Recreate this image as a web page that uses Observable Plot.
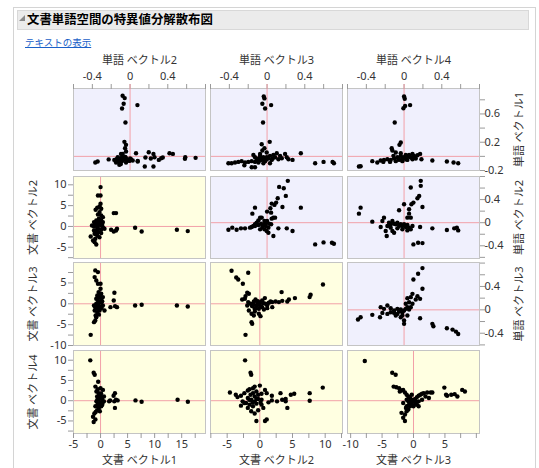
<!DOCTYPE html>
<html><head><meta charset="utf-8">
<script src="https://cdn.jsdelivr.net/npm/d3@7"></script>
<script src="https://cdn.jsdelivr.net/npm/@observablehq/plot@0.6"></script>
<style>
body{margin:0;background:#fff;font-family:"Noto Sans","Noto Sans CJK JP",sans-serif;}
#root{position:relative;width:539px;height:468px;overflow:hidden;background:#fff;}
.abs{position:absolute;}
</style></head><body><div id="root">
<div class="abs" style="left:13px;top:7px;width:523px;height:480px;border:1px solid #d4d4d4;box-sizing:border-box;"></div>
<div class="abs" style="left:17px;top:10px;width:512px;height:20px;background:#ebebeb;border:1px solid #d8d8d8;box-sizing:border-box;"></div>
<div class="abs" style="left:19px;top:15px;width:6px;height:6px;background:#8a8a8a;clip-path:polygon(100% 0,100% 100%,0 100%);"></div>
<div class="abs" id="title" style="left:27px;top:10px;height:18px;line-height:18px;font-size:12.4px;font-weight:bold;color:#000;font-family:'Noto Sans CJK JP',sans-serif;white-space:nowrap;">文書単語空間の特異値分解散布図</div>
<div class="abs" style="left:25px;top:35px;line-height:14px;font-size:9.5px;color:#1a5fc8;text-decoration:underline;font-family:'Noto Sans CJK JP',sans-serif;white-space:nowrap;">テキストの表示</div>
</div>
<script>
// ---- data: word vectors (単語 ベクトル) per panel as [x, y]
const wordV2V1 = [[-0.079,0.857],[-0.057,0.824],[-0.068,0.744],[-0.085,0.677],[0.078,0.725],[-0.049,0.479],
 [-0.06,0.205],[-0.043,0.163],[-0.053,0.116],[-0.043,0.068],[-0.078,0.035],
 [-0.167,-0.05],[-0.142,-0.04],[-0.121,-0.073],[-0.103,-0.097],[-0.096,-0.031],[-0.078,-0.059],[-0.06,-0.04],[-0.043,-0.026],[-0.025,-0.05],[-0.007,-0.064],[0.01,-0.04],[0.028,-0.059],[-0.149,-0.087],[-0.114,-0.12],[-0.085,-0.012],[-0.043,-0.087],[-0.131,-0.012],[0.081,-0.064],[0.063,0.045],[-0.096,0.035],
 [-0.09,-0.07],[-0.07,-0.02],[-0.11,-0.05],[-0.03,-0.06],[-0.12,-0.03],[-0.05,-0.01],[0.0,-0.03],[-0.1,-0.11],
 [-0.369,-0.087],[-0.344,-0.073],[-0.227,-0.043],
 [0.163,-0.017],[0.198,0.058],[0.248,0.035],[0.22,-0.031],[0.259,-0.012],[0.305,-0.05],[0.33,-0.026],[0.347,-0.017],[0.418,0.045],[0.454,0.035],[0.585,-0.012],[0.582,-0.035],[0.695,-0.021],[0.156,-0.144],[0.248,-0.144],[0.081,-0.073]];
const wordV3V1 = [[-0.035,0.847],[-0.028,0.82],[-0.05,0.744],[0.043,0.725],[-0.021,0.677],[-0.043,0.479],
 [-0.057,0.172],[0.028,0.205],[-0.028,0.116],[-0.05,0.083],[-0.004,0.054],
 [-0.145,0.021],[-0.128,-0.012],[-0.11,-0.05],[-0.092,-0.031],[-0.074,0.007],[-0.057,-0.05],[-0.039,-0.012],[-0.021,-0.068],[-0.004,-0.04],[0.014,-0.026],[0.031,0.007],[0.049,-0.05],[0.067,0.021],[0.085,-0.012],[0.103,0.045],[0.12,-0.04],[0.138,0.007],[0.156,-0.026],[0.191,0.035],[0.209,-0.012],[0.227,-0.04],[0.27,-0.05],[0.358,0.045],[-0.163,-0.068],[-0.128,-0.078],[-0.092,-0.087],[-0.039,-0.097],[0.031,-0.097],[-0.004,-0.012],[-0.074,0.035],
 [-0.06,-0.03],[-0.02,-0.05],[0.0,-0.02],[-0.08,-0.06],[0.06,-0.03],
 [-0.41,-0.097],[-0.376,-0.097],[-0.34,-0.087],[-0.305,-0.078],[-0.27,-0.068],[-0.234,-0.087],[-0.241,-0.125],[-0.163,-0.154],[-0.128,-0.154],[-0.199,-0.078],
 [0.51,-0.097],[0.599,-0.078],[0.695,-0.078],[0.709,-0.097]];
const wordV4V1 = [[0,0.847],[0.007,0.814],[-0.007,0.68],[0.011,0.714],[0.064,0.725],[-0.099,0.479],
 [-0.035,0.196],[-0.049,0.163],[-0.131,0.116],[-0.124,0.083],[-0.088,0.054],
 [-0.284,-0.087],[-0.248,-0.059],[-0.213,-0.05],[-0.177,-0.04],[-0.142,-0.05],[-0.106,-0.031],[-0.071,-0.012],[-0.053,-0.05],[-0.035,0.007],[-0.018,-0.031],[0,-0.012],[0.018,0.021],[0.035,-0.003],[0.053,0.021],[0.071,-0.012],[0.089,-0.04],[0.106,0.007],[0.124,-0.031],[0.142,0.016],[0.17,0.035],[0.184,-0.04],[-0.149,-0.078],[-0.088,-0.068],[-0.018,-0.068],[0.035,-0.05],[-0.035,0.045],[0.089,0.035],[-0.22,-0.078],[-0.337,-0.068],[-0.113,0.007],
 [-0.01,-0.02],[0.02,-0.04],[0.05,0.0],[-0.06,-0.03],[0.1,-0.02],
 [0.3,-0.059],[0.454,-0.073],[0.525,-0.087],[0.574,-0.097],
 [-0.479,-0.144],[-0.461,-0.139]];
const wordV3V2 = [[0.22,0.725],[0.128,0.62],[0.177,0.597],[0.199,0.464],[0.113,0.424],[0.096,0.348],[0.049,0.331],[0.078,0.308],[0.035,0.25],[-0.128,0.261],[-0.156,0.157],[0,0.192],[0.163,0.273],[0.358,0.261],[0.043,0.174],[0.067,0.087],[0.049,0.07],[0,0.03],[-0.028,0.03],[-0.057,0.087],[-0.074,0.087],[-0.092,0.041],[-0.11,0.002],[-0.128,-0.028],[-0.145,-0.057],[-0.163,-0.075],[-0.092,-0.04],[-0.064,-0.017],[-0.039,-0.04],[-0.014,-0.057],[0.014,-0.086],[-0.028,-0.115],[-0.004,-0.144],[0.014,-0.173],[0.067,-0.231],[0.12,-0.098],[0.209,-0.098],[0.27,-0.144],[-0.41,-0.121],[-0.369,-0.086],[-0.323,-0.121],[-0.277,-0.098],[-0.234,-0.098],[-0.181,-0.086],[-0.128,-0.057],[-0.074,-0.115],[-0.05,-0.075],[0.51,-0.376],[0.599,-0.341],[0.688,-0.347],[0.709,-0.364],[0.021,-0.017],[0.043,-0.028],[-0.021,-0.017],[0.085,0.087]];
const wordV4V2 = [[0.177,0.725],[0.177,0.638],[0.071,0.609],[0.16,0.464],[0.142,0.424],[0,0.319],[0.099,0.348],[0.078,0.319],[0.195,0.273],[0.053,0.232],[-0.053,0.215],[0.053,0.157],[-0.461,0.261],[-0.479,0.157],[0.035,0.087],[0.071,0.087],[-0.213,0.087],[-0.23,0.03],[-0.337,0.018],[-0.16,0.001],[-0.142,-0.028],[-0.124,0.03],[-0.106,-0.017],[-0.088,-0.028],[-0.071,0.001],[-0.053,-0.057],[-0.035,-0.028],[-0.018,-0.057],[0,-0.028],[0.018,-0.075],[0.035,-0.04],[0.053,-0.086],[0.071,-0.115],[0.089,-0.057],[-0.177,-0.057],[-0.142,-0.086],[-0.248,-0.075],[-0.195,-0.144],[-0.124,-0.144],[-0.106,-0.173],[-0.184,-0.231],[0.17,-0.075],[0.3,-0.098],[0.454,-0.127],[0.532,-0.098],[0.56,-0.086],[0.574,-0.133],[0.099,-0.376],[0.149,-0.347],[0.195,-0.353],[-0.018,-0.115],[-0.071,-0.098],[0.035,-0.133]];
const wordV4V3 = [[0.195,0.714],[0.149,0.617],[0.099,0.52],[0.195,0.36],[0.089,0.274],[0.071,0.217],[0.035,0.2],[0.142,0.234],[0.124,0.177],[0.17,0.188],[0.053,0.131],[0.018,0.103],[0.089,0.103],[-0.248,0.046],[-0.177,0.074],[-0.213,0.017],[-0.142,0.028],[-0.106,-0.011],[-0.071,0.017],[-0.053,-0.029],[-0.035,0.006],[-0.018,-0.04],[0,-0.011],[0.018,0.017],[0.035,0.046],[0.053,0.006],[0.071,0.046],[-0.142,-0.04],[-0.106,-0.052],[-0.177,-0.069],[-0.23,-0.052],[-0.337,-0.086],[-0.255,-0.126],[-0.461,-0.126],[-0.489,-0.166],[-0.071,-0.069],[-0.018,-0.097],[0,-0.183],[0,-0.24],[0.035,-0.097],[0.17,-0.143],[0.3,-0.24],[0.311,-0.28],[0.454,-0.315],[0.514,-0.338],[0.55,-0.372],[0.574,-0.412],[-0.088,-0.097],[-0.035,-0.126]];
// ---- data: document vectors (文書 ベクトル) per panel as [x, y]
const docV1V2 = [[0,9.45],[-0.48,7.45],[0,7.45],[0,5.45],[-0.18,4.81],[-0.6,4.49],[-0.91,4.01],[0.12,4.25],[-0.18,3.45],[-0.48,2.88],[0.12,2.64],[-0.3,1.84],[-0.79,1.44],[0.12,1.44],[0.43,1.04],[-1.21,1.04],[-0.79,0.64],[-0.48,0.24],[-0.18,0.64],[0.12,0.24],[0.43,-0.16],[-1.21,0],[-0.48,-0.56],[0.12,-0.8],[-0.79,-0.96],[-0.36,-1.36],[0.12,-1.6],[-1.09,-1.76],[-0.6,-2.16],[-1.82,-2.4],[-0.97,-2.96],[-1.09,-3.77],[-0.79,-4.33],[-1.39,-3.37],[2.44,3.21],[2.86,3.21],[1.95,-0.8],[2.44,-1.2],[3.04,-0.56],[2.86,-0.96],[6.39,-0.32],[7.6,-1.2],[14.11,-0.8],[16.12,-1.12],[0.73,-0.56],[0.43,2.24],[-1.21,-0.96],[-1.58,0.24],
 [-0.3,0.8],[-0.6,-0.3],[0.2,0.3],[-0.9,-1.8],[-0.2,-2.6],[0.3,0.6],[-0.5,1.2],[-1.0,0.4]];
const docV1V3 = [[-0.97,8.0],[-0.48,7.6],[-1.09,6.4],[-0.79,5.6],[-0.48,4.8],[0,4.8],[-0.36,2.8],[0.12,2.4],[-0.6,2.0],[-0.18,1.6],[0.12,1.2],[-0.79,1.2],[-0.48,0.8],[-0.18,0.4],[0.12,0.24],[-0.79,0],[-0.36,-0.4],[0,-0.8],[-0.97,-0.8],[-0.6,-1.2],[-0.18,-1.6],[-1.09,-1.6],[-0.6,-2.16],[-0.91,-2.8],[-0.79,-3.2],[-1.21,-4.4],[-0.97,-4.0],[-1.82,-7.45],[0.43,1.6],[0.73,-1.6],[1.83,-0.8],[2.56,2.64],[2.44,0.8],[2.68,-0.56],[3.04,-0.8],[6.39,-0.4],[7.6,-0.24],[14.11,-0.4],[16.12,-0.64],[0,3.6],[-1.21,-0.4],[0.43,-0.4],
 [-0.3,-2.6],[0.2,-1.0],[-0.5,1.6],[-0.1,2.0],[0.3,0.6],[-0.7,-0.3]];
const docV1V4 = [[-1.9,9.97],[-1.27,6.89],[-1.08,6.4],[-0.95,3.48],[-0.51,2.84],[-0.76,2.27],[-0.32,1.86],[0,3.08],[-0.13,1.46],[-0.63,1.05],[0.13,0.89],[-0.32,0.41],[0.32,0.24],[-0.76,-0.16],[0,-0.41],[-0.51,-0.73],[0.32,-0.97],[-0.95,-1.38],[-0.32,-1.78],[-0.63,-2.35],[-1.14,-3.16],[-1.39,-3.97],[-0.95,-4.62],[-1.27,-5.27],[-0.13,-2.59],[0.63,1.05],[0.63,-0.16],[1.77,0.08],[2.53,-0.16],[2.66,1.86],[2.41,1.22],[2.85,0.24],[2.66,-1.78],[3.16,0.08],[1.58,-0.16],[6.46,0.08],[7.59,-0.24],[14.24,0.24],[16.14,-0.24],[0.44,2.67],[-0.44,4.7],[0.13,-1.38],
 [-0.2,0.6],[0.4,-0.4],[-0.6,0.2],[-0.4,-1.1],[0.1,1.8],[-0.9,-2.8]];
const docV2V3 = [[-4.33,7.92],[-1.78,7.44],[-3.61,6.32],[-3.31,5.84],[-2.6,4.8],[9.66,4.64],[3.33,2.8],[7.77,2.16],[7.62,1.6],[5.37,1.36],[4.45,1.04],[4.2,0.55],[-1.93,2.64],[-2.19,1.84],[-1.68,2.4],[-2.7,1.04],[-2.29,1.2],[-1.78,0.4],[-1.43,0],[-0.92,0.55],[-0.66,1.04],[-0.4,0.24],[-0.15,-0.24],[0.1,0.4],[0.36,0.8],[0.77,1.36],[0.87,0],[1.13,-0.4],[1.38,0.24],[1.64,0.55],[1.9,0.4],[2.41,0.55],[2.92,0.4],[3.43,0.71],[-1.17,-0.56],[-0.66,-1.04],[-0.15,-1.2],[0.36,-0.8],[0.62,-1.36],[1.13,-1.04],[-0.76,-1.84],[-1.27,-2.4],[-0.92,-2.8],[-0.15,-2.4],[0.1,-2.96],[-1.68,-1.6],[-1.27,-4.4],[-1.17,-4.8],[-2.19,-7.45],[1.9,-0.8],[-1.93,-0.4],
 [-0.5,-0.4],[0.2,-0.6],[-1.0,-0.2],[0.5,0.2],[-0.3,0.6],[-0.8,-1.2]];
const docV2V4 = [[-2.26,9.97],[-1.42,6.89],[-1.32,6.4],[-4.58,2.03],[-3.68,1.46],[-3.42,0.89],[-2.89,1.22],[-2.37,1.86],[-1.84,2.51],[-1.58,2.84],[-1.05,3.08],[-0.79,3.48],[0,3.73],[-0.53,2.27],[-1.05,1.86],[-1.42,1.46],[-0.79,1.05],[-0.26,1.46],[0.26,1.7],[0.79,2.67],[1.05,1.86],[-1.84,0.65],[-1.32,0.24],[-0.79,-0.16],[-0.26,0.41],[0.26,0.24],[-2.63,-0.16],[-2.11,-0.57],[-1.58,-0.97],[-1.05,-1.38],[-0.53,-0.73],[-2.89,-1.22],[-1.84,-1.78],[-1.32,-2.59],[-0.79,-3.16],[-0.26,-2.35],[0.53,-1.78],[0.79,-5.02],[1.05,-4.62],[1.32,-0.41],[1.84,0.08],[2.63,-0.16],[3.42,0.24],[3.95,0.41],[4.74,1.46],[5.26,1.7],[3.95,-0.16],[4.21,-1.78],[3.16,1.86],[1.84,1.22],[7.63,1.86],[7.63,0],[9.63,3.24],[-2.37,-0.57],[0.26,-0.97],[-0.53,-5.02],
 [-0.5,0.5],[-1.1,-0.4],[0.1,-0.5],[-1.6,0.2]];
const docV3V4 = [[-7.75,9.81],[-3.38,6.89],[-2.84,6.4],[-3.16,3.48],[-2.73,3.32],[-2.29,3.08],[-1.91,2.51],[-1.64,2.67],[-1.36,2.03],[-2.18,2.27],[-1.09,1.46],[-0.82,1.05],[-0.55,0.65],[-0.27,0.24],[0,-0.16],[0.27,0.41],[0.55,0.89],[0.82,1.22],[1.09,1.46],[1.36,1.7],[1.64,1.86],[2.18,2.03],[2.73,2.03],[3.0,2.03],[2.45,0.65],[1.91,1.05],[1.36,0.24],[0.82,-0.16],[0.27,-0.57],[-0.27,-0.97],[-0.55,-1.38],[-0.82,-2.19],[-1.09,-2.59],[-1.36,-3.4],[-1.64,-4.21],[-1.36,-5.02],[-1.09,-1.38],[-1.64,-0.57],[-0.82,-0.16],[0,-1.38],[0.55,-0.97],[-1.91,-3.0],[4.91,3.24],[5.35,1.22],[6.0,1.46],[6.55,1.62],[6.98,1.05],[7.75,2.67],[8.18,2.27],[5.18,1.46],[0.82,-1.38],[-1.09,0.24],[-0.27,1.46],
 [-0.4,-0.5],[0.1,0.2],[-0.7,-0.9],[0.4,-0.2],[-1.2,-1.8]];

// ---- tick values and labels
const wordTicks = [-0.6,-0.4,-0.2,0,0.2,0.4,0.6,0.8];
const wordLabels = [-0.4,0,0.4];
const word1Ticks = [-0.2,0,0.2,0.4,0.6,0.8];
const word1Labels = [-0.2,0.2,0.6];
const doc1Ticks = [-5,-2.5,0,2.5,5,7.5,10,12.5,15,17.5];
const doc1Labels = [-5,0,5,10,15];
const doc2Ticks = [-7.5,-5,-2.5,0,2.5,5,7.5,10,12.5];
const doc2Labels = [-5,0,5,10];
const doc3Ticks = [-10,-7.5,-5,-2.5,0,2.5,5,7.5,10];
const doc3Labels = [-10,-5,0,5];
const doc4Ticks = [-7.5,-5,-2.5,0,2.5,5,7.5,10,12.5];
const doc4Labels = [-5,0,5,10];

const axes = {
  w1y:{domain:[-0.2,0.96], ticks:word1Ticks, labels:word1Labels, title:"単語 ベクトル1"},
  w2y:{domain:[-0.62,0.8], ticks:wordTicks, labels:wordLabels, title:"単語 ベクトル2"},
  w3y:{domain:[-0.61,0.81], ticks:wordTicks, labels:wordLabels, title:"単語 ベクトル3"},
  w2x:{domain:[-0.6,0.8], ticks:wordTicks, labels:wordLabels, title:"単語 ベクトル2"},
  w3x:{domain:[-0.6,0.8], ticks:wordTicks, labels:wordLabels, title:"単語 ベクトル3"},
  w4x:{domain:[-0.6,0.8], ticks:wordTicks, labels:wordLabels, title:"単語 ベクトル4"},
  d1x:{domain:[-5,19.4], ticks:doc1Ticks, labels:doc1Labels, title:"文書 ベクトル1"},
  d2x:{domain:[-7.55,12.65], ticks:doc2Ticks, labels:doc2Labels, title:"文書 ベクトル2"},
  d3x:{domain:[-10.5,10.5], ticks:doc3Ticks, labels:doc3Labels, title:"文書 ベクトル3"},
  d2y:{domain:[-7.7,12.0], ticks:doc2Ticks, labels:doc2Labels, title:"文書 ベクトル2"},
  d3y:{domain:[-10,9.9], ticks:doc3Ticks, labels:doc3Labels, title:"文書 ベクトル3"},
  d4y:{domain:[-8.1,12.4], ticks:doc4Ticks, labels:doc4Labels, title:"文書 ベクトル4"}
};

const panels = [
  {r:0,c:0,data:wordV2V1,x:"w2x",y:"w1y",word:true},
  {r:0,c:1,data:wordV3V1,x:"w3x",y:"w1y",word:true},
  {r:0,c:2,data:wordV4V1,x:"w4x",y:"w1y",word:true},
  {r:1,c:0,data:docV1V2,x:"d1x",y:"d2y"},
  {r:1,c:1,data:wordV3V2,x:"w3x",y:"w2y",word:true},
  {r:1,c:2,data:wordV4V2,x:"w4x",y:"w2y",word:true},
  {r:2,c:0,data:docV1V3,x:"d1x",y:"d3y"},
  {r:2,c:1,data:docV2V3,x:"d2x",y:"d3y"},
  {r:2,c:2,data:wordV4V3,x:"w4x",y:"w3y",word:true},
  {r:3,c:0,data:docV1V4,x:"d1x",y:"d4y"},
  {r:3,c:1,data:docV2V4,x:"d2x",y:"d4y"},
  {r:3,c:2,data:docV3V4,x:"d3x",y:"d4y"}
];

const root = document.getElementById("root");
const colLeft = [73, 210, 347], panelW = 132;
const rowTop = [88, 176, 262, 350], rowH = [82, 82, 83, 83];
const M = {l:70, r:60, t:40, b:45};
const FONT = '"Noto Sans","Noto Sans CJK JP",sans-serif';
const pink = "#f2a0a8", tickColor = "#9a9a9a", textColor = "#333";
const inD = (t, d) => t >= d[0] - 1e-9 && t <= d[1] + 1e-9;

for (const p of panels) {
  const xs = axes[p.x], ys = axes[p.y];
  const top = p.r === 0, bottom = p.r === 3, left = p.c === 0 && p.r > 0, right = p.c === 2 && p.r < 3;
  const marks = [
    Plot.frame({fill: p.word ? "#f0f0fd" : "#ffffe1", stroke: "none"}),
    Plot.ruleX([0], {stroke: pink}),
    Plot.ruleY([0], {stroke: pink}),
    Plot.dot(p.data, {x: d => d[0], y: d => d[1], r: 2.2, fill: "#000", stroke: "none"}),
    Plot.frame({stroke: "#c4c4c4", fill: "none"})
  ];
  if (top) {
    marks.push(Plot.axisX(xs.ticks.filter(t => inD(t, xs.domain)), {anchor:"top", tickSize:5, tickFormat:() => "", color:tickColor, label:null}));
    marks.push(Plot.axisX([0], {anchor:"top", tickSize:5, tickFormat:() => "", color:pink, label:null}));
    marks.push(Plot.axisX(xs.labels, {anchor:"top", tickSize:0, tickPadding:9, tickFormat:d => String(d), color:textColor, label:null}));
    marks.push(Plot.text([xs.title], {frameAnchor:"top", dy:-32, text:d => d, fill:textColor, textAnchor:"middle"}));
  }
  if (bottom) {
    marks.push(Plot.axisX(xs.ticks.filter(t => inD(t, xs.domain)), {anchor:"bottom", tickSize:5, tickFormat:() => "", color:tickColor, label:null}));
    marks.push(Plot.axisX(xs.labels, {anchor:"bottom", tickSize:0, tickPadding:7, tickFormat:d => String(d), color:textColor, label:null}));
    marks.push(Plot.text([xs.title], {frameAnchor:"bottom", dy:30, text:d => d, fill:textColor, textAnchor:"middle"}));
  }
  if (left) {
    marks.push(Plot.axisY(ys.ticks.filter(t => inD(t, ys.domain)), {anchor:"left", tickSize:5, tickFormat:() => "", color:tickColor, label:null}));
    marks.push(Plot.axisY(ys.labels, {anchor:"left", tickSize:0, tickPadding:7, tickFormat:d => String(d), color:textColor, label:null}));
    marks.push(Plot.text([ys.title], {frameAnchor:"left", dx:-40, rotate:-90, text:d => d, fill:textColor, textAnchor:"middle"}));
  }
  if (right) {
    marks.push(Plot.axisY(ys.ticks.filter(t => inD(t, ys.domain)), {anchor:"right", tickSize:5, tickFormat:() => "", color:tickColor, label:null}));
    marks.push(Plot.axisY(ys.labels, {anchor:"right", tickSize:0, tickPadding:5, tickFormat:d => String(d), color:textColor, label:null}));
    marks.push(Plot.text([ys.title], {frameAnchor:"right", dx:40, rotate:-90, text:d => d, fill:textColor, textAnchor:"middle"}));
  }
  const xOpt = {domain: xs.domain}; if (!(top || bottom)) xOpt.axis = null;
  const yOpt = {domain: ys.domain}; if (!(left || right)) yOpt.axis = null;
  const svg = Plot.plot({
    width: panelW + M.l + M.r, height: rowH[p.r] + M.t + M.b,
    marginLeft: M.l, marginRight: M.r, marginTop: M.t, marginBottom: M.b,
    x: xOpt, y: yOpt,
    style: {background: "transparent", fontFamily: FONT, fontSize: "11px", overflow: "visible"},
    marks
  });
  svg.style.position = "absolute";
  svg.style.left = (colLeft[p.c] - M.l) + "px";
  svg.style.top = (rowTop[p.r] - M.t) + "px";
  svg.style.maxWidth = "none";
  root.appendChild(svg);
}
</script></body></html>
